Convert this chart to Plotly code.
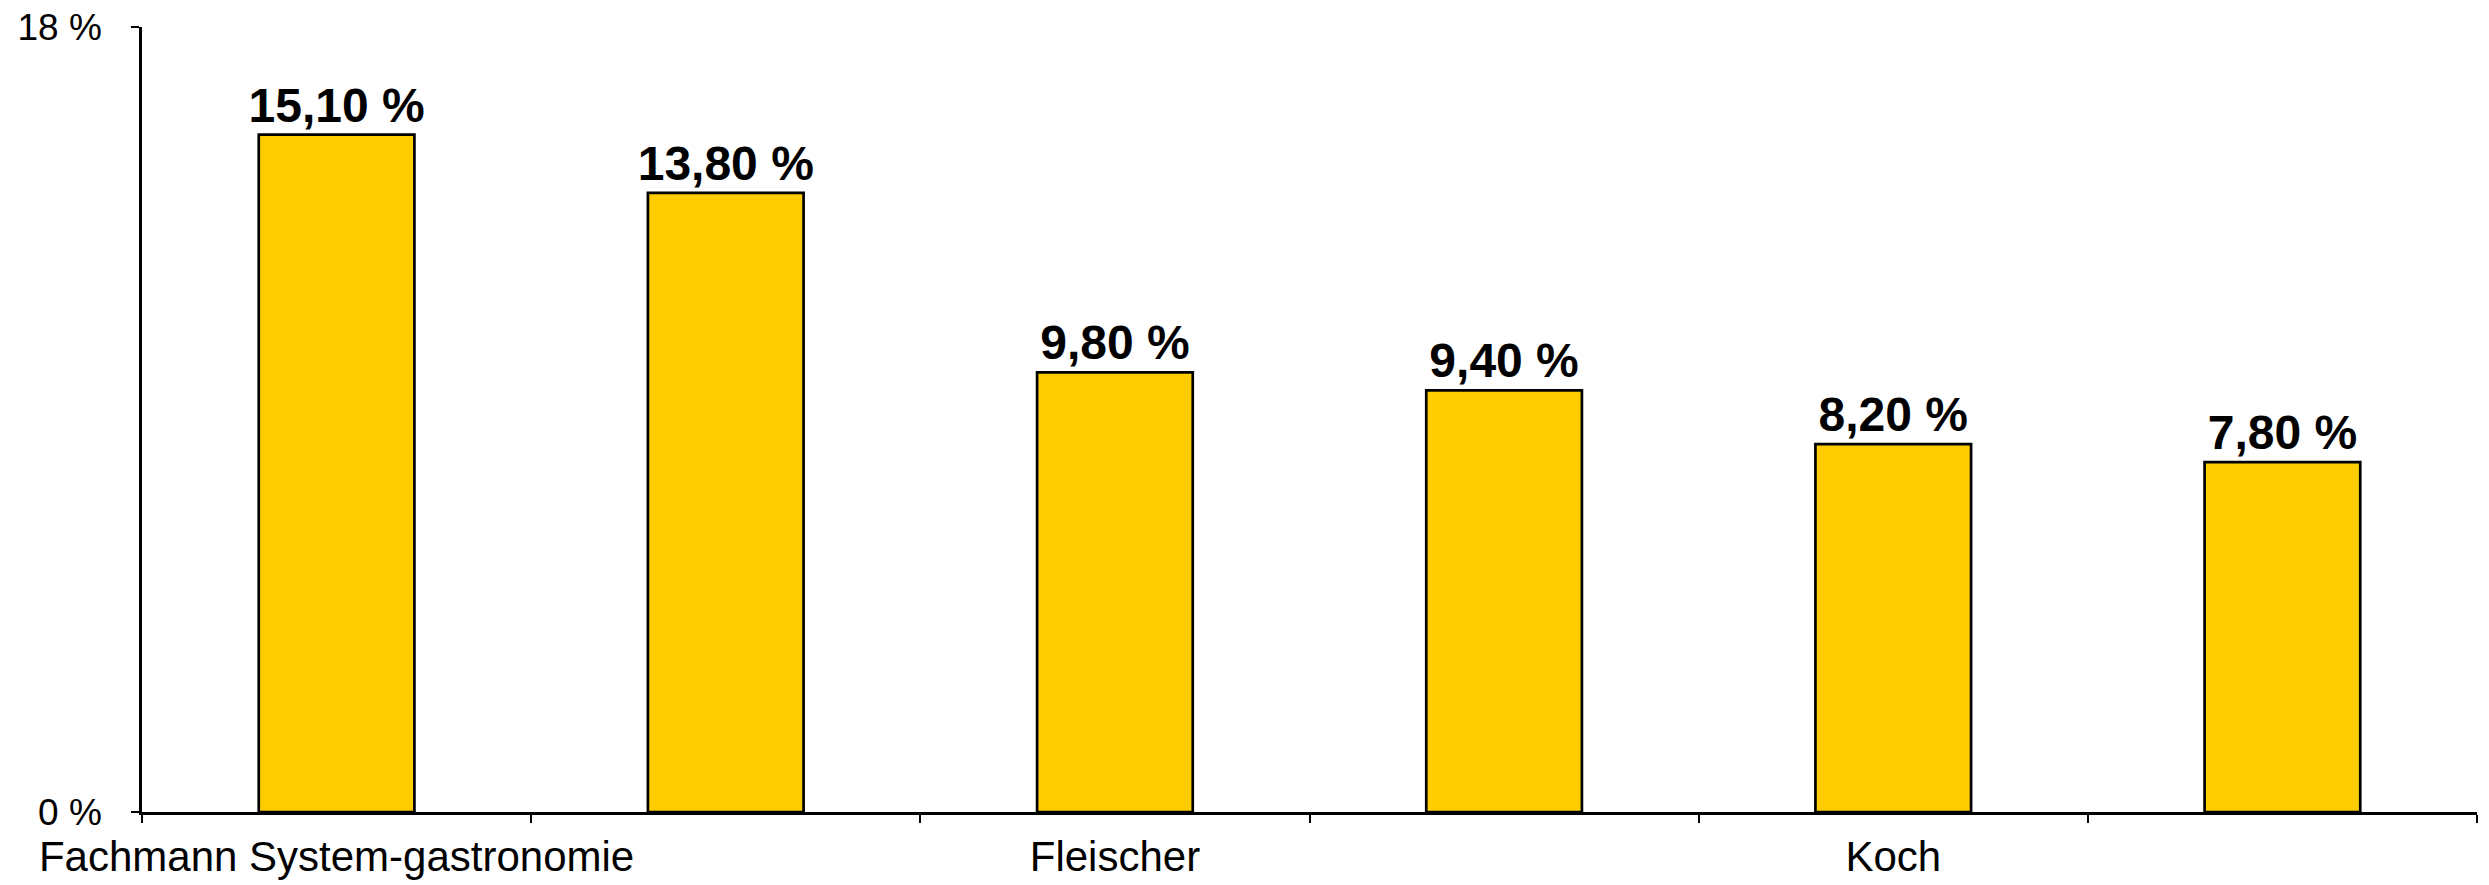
import plotly.graph_objects as go

# Data
categories = ["Fachmann System-gastronomie", "Kategorie 2", "Fleischer", "Kategorie 4", "Koch", "Kategorie 6"]
tick_labels = ["Fachmann System-gastronomie", "", "Fleischer", "", "Koch", ""]
values = [15.10, 13.80, 9.80, 9.40, 8.20, 7.80]
value_labels = ["15,10 %", "13,80 %", "9,80 %", "9,40 %", "8,20 %", "7,80 %"]
y_tick_vals = [0, 17.5]
y_tick_text = ["0 %", "18 %"]

FONT = "Liberation Sans, Arial, Helvetica, sans-serif"

fig = go.Figure(
    go.Bar(
        x=categories,
        y=values,
        text=value_labels,
        textposition="outside",
        constraintext="none",
        textfont=dict(family=FONT, size=48, color="black", weight="bold"),
        cliponaxis=False,
        marker=dict(color="#FFCC00", line=dict(color="black", width=2.7)),
        hoverinfo="skip",
    )
)

fig.update_layout(
    width=2489,
    height=885,
    margin=dict(l=142, r=12, t=27, b=73),
    paper_bgcolor="white",
    plot_bgcolor="white",
    bargap=0.6,
    showlegend=False,
    font=dict(family=FONT, color="black"),
)

fig.update_xaxes(
    type="category",
    tickmode="array",
    tickvals=categories,
    ticktext=tick_labels,
    tickson="boundaries",
    tickangle=0,
    automargin=False,
    ticks="outside",
    ticklen=8,
    tickwidth=2,
    tickcolor="black",
    ticklabelstandoff=6,
    showline=True,
    linecolor="black",
    linewidth=2.5,
    showgrid=False,
    tickfont=dict(family=FONT, size=42, color="black"),
)

fig.update_yaxes(
    range=[0, 17.5],
    tickmode="array",
    tickvals=y_tick_vals,
    ticktext=y_tick_text,
    automargin=False,
    ticks="outside",
    ticklen=8,
    tickwidth=2,
    tickcolor="black",
    ticklabelstandoff=22,
    showline=True,
    linecolor="black",
    linewidth=2.5,
    showgrid=False,
    zeroline=False,
    tickfont=dict(family=FONT, size=37, color="black"),
)

fig.write_html("out.html")
